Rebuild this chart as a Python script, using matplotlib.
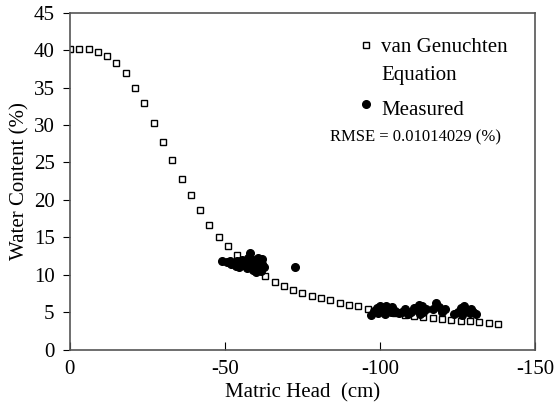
import matplotlib
matplotlib.use("Agg")
import matplotlib.pyplot as plt
from matplotlib.legend_handler import HandlerLine2D

plt.rcParams['font.family'] = ['Liberation Serif', 'DejaVu Serif']
plt.rcParams['axes.unicode_minus'] = False

# van Genuchten model curve
vg_head = [0, -3, -6, -9, -12, -15, -18, -21, -24, -27, -30, -33, -36, -39, -42,
           -45, -48, -51, -54, -57, -60, -63, -66, -69, -72, -75, -78, -81, -84,
           -87, -90, -93, -96, -99, -102, -105, -108, -111, -114, -117, -120,
           -123, -126, -129, -132, -135, -138]
vg_theta = [40.1, 40.1, 40.1, 39.8, 39.2, 38.3, 36.9, 35.0, 32.9, 30.3, 27.8,
            25.3, 22.8, 20.7, 18.6, 16.7, 15.1, 13.8, 12.6, 11.5, 10.6, 9.8,
            9.1, 8.5, 8.0, 7.6, 7.2, 6.9, 6.6, 6.3, 6.0, 5.8, 5.5, 5.3, 5.1,
            4.9, 4.7, 4.5, 4.4, 4.2, 4.1, 4.0, 3.9, 3.8, 3.7, 3.6, 3.5]

meas_head = [-49, -50.5, -51.5, -52, -53, -53.5, -54, -54.5, -55, -55.5, -56,
             -56.5, -57, -57.5, -58, -58, -58.5, -59, -59, -59.5, -60, -60,
             -60.5, -61, -61, -61.5, -62, -62, -62.5, -72.5,
             -97, -98, -99, -99.5, -100, -101, -101.5, -102, -103, -103.5,
             -104, -105, -106, -107, -108, -109, -110, -111, -112, -112.5,
             -113, -113.5, -114, -115, -117, -118, -119, -120, -121, -124,
             -125, -126, -126.5, -127, -128, -129, -129.5, -130, -131]
meas_theta = [11.8, 11.7, 11.9, 11.5, 11.6, 11.2, 11.8, 11.0, 11.4, 12.0, 11.3,
              11.7, 10.9, 12.3, 12.9, 11.5, 11.0, 12.0, 10.6, 11.6, 11.2, 10.4,
              12.2, 11.0, 11.8, 10.5, 11.5, 12.1, 11.0, 11.1,
              4.6, 5.2, 5.6, 4.9, 5.8, 5.3, 4.8, 5.9, 5.5, 5.0,
              5.7, 5.2, 4.9, 5.1, 5.4, 4.8, 5.0, 5.6, 5.3, 6.0,
              4.8, 5.8, 5.1, 5.5, 5.5, 6.2, 5.7, 5.0, 5.4, 4.8,
              5.1, 5.6, 4.6, 5.9, 5.2, 4.9, 5.5, 5.0, 4.8]

x_ticks = [0, -50, -100, -150]
y_ticks = [0, 5, 10, 15, 20, 25, 30, 35, 40, 45]


class TopLineHandler(HandlerLine2D):
    """Place the legend marker next to the first line of a two-line label."""
    def __init__(self, shift=0.0, **kw):
        super().__init__(**kw)
        self.shift = shift

    def create_artists(self, legend, orig_handle, xdescent, ydescent, width,
                       height, fontsize, trans):
        arts = super().create_artists(legend, orig_handle, xdescent, ydescent,
                                      width, height, fontsize, trans)
        for a in arts:
            a.set_ydata([y + self.shift for y in a.get_ydata()])
        return arts


fig = plt.figure(figsize=(5.55, 4.05), dpi=100)
ax = fig.add_axes([0.126, 0.136, 0.838, 0.833])

vg_line, = ax.plot(vg_head, vg_theta, linestyle='none', marker='s',
                   markersize=4, markerfacecolor='white',
                   markeredgecolor='black', markeredgewidth=1.0,
                   label='van Genuchten\nEquation', zorder=2)
ms_line, = ax.plot(meas_head, meas_theta, linestyle='none', marker='o',
                   markersize=5.5, color='black', label='Measured', zorder=3)

ax.set_xlim(0, -150)
ax.set_ylim(0, 45)
ax.set_xticks(x_ticks)
ax.set_yticks(y_ticks)
ax.set_xticklabels([str(v) for v in x_ticks])
ax.tick_params(axis='x', direction='in', length=6, labelsize=15, pad=7)
ax.tick_params(axis='y', direction='out', length=5, labelsize=15, pad=6)
for s in ax.spines.values():
    s.set_color('#555555')
    s.set_linewidth(1.2)

ax.set_xlabel('Matric Head  (cm)', fontsize=15, labelpad=3)
ax.set_ylabel('Water Content (%)', fontsize=15, labelpad=3)

leg = ax.legend(handles=[vg_line, ms_line], loc='upper left',
                bbox_to_anchor=(0.624, 0.925), frameon=False, borderpad=0,
                borderaxespad=0, fontsize=15, handlelength=0.6,
                handletextpad=0.4, labelspacing=0.75,
                handler_map={vg_line: TopLineHandler(shift=11.8),
                             ms_line: TopLineHandler(shift=2.5)})
for t in leg.get_texts():
    t.set_linespacing(1.65)
    t.set_multialignment('left')

ax.text(0.742, 0.631, 'RMSE = 0.01014029 (%)', transform=ax.transAxes,
        ha='center', va='center', fontsize=12)

fig.savefig('out.png', dpi=100)
